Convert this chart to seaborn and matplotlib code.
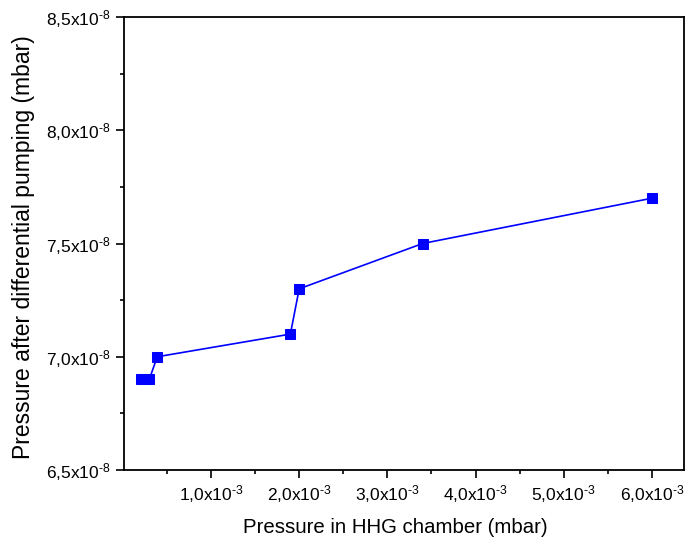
import matplotlib
matplotlib.use("Agg")
import matplotlib.pyplot as plt
import seaborn as sns
import pandas as pd
from matplotlib.ticker import FuncFormatter, MultipleLocator

# Data (mbar)
hhg_pressure = [0.21e-3, 0.30e-3, 0.39e-3, 1.9e-3, 2.0e-3, 3.4e-3, 6.0e-3]
diff_pressure = [6.9e-8, 6.9e-8, 7.0e-8, 7.1e-8, 7.3e-8, 7.5e-8, 7.7e-8]

df = pd.DataFrame({"x": hhg_pressure, "y": diff_pressure})

sns.set_theme(style="ticks")
plt.rcParams["font.family"] = ["Liberation Sans", "DejaVu Sans"]
plt.rcParams["mathtext.fontset"] = "custom"
plt.rcParams["mathtext.rm"] = "Liberation Sans"
plt.rcParams["mathtext.it"] = "Liberation Sans"
plt.rcParams["mathtext.bf"] = "Liberation Sans"
plt.rcParams["text.color"] = "black"
plt.rcParams["axes.labelcolor"] = "black"
plt.rcParams["xtick.color"] = "black"
plt.rcParams["ytick.color"] = "black"

fig = plt.figure(figsize=(6.86, 5.48), dpi=100)
ax = fig.add_axes([0.1808, 0.1423, 0.997 - 0.1808, 0.969 - 0.1423])

sns.lineplot(data=df, x="x", y="y", ax=ax, color="#0000ff", marker="s",
             markersize=7, markeredgecolor="#0000ff", linewidth=1.2,
             sort=False, estimator=None)

ax.set_xlim(0.0136e-3, 6.363e-3)
ax.set_ylim(6.5e-8, 8.5e-8)

ax.xaxis.set_major_locator(MultipleLocator(1e-3))
ax.xaxis.set_minor_locator(MultipleLocator(0.5e-3))
ax.yaxis.set_major_locator(MultipleLocator(0.5e-8))
ax.yaxis.set_minor_locator(MultipleLocator(0.25e-8))

HY = "\u2010"

def fmt_x(v, pos):
    if v < 0.5e-3:
        return ""
    s = f"{v / 1e-3:.1f}".replace(".", ",")
    return s + r"x10$^{\mathregular{" + HY + "3}}$"

def fmt_y(v, pos):
    s = f"{v / 1e-8:.1f}".replace(".", ",")
    return s + r"x10$^{\mathregular{" + HY + "8}}$"

ax.xaxis.set_major_formatter(FuncFormatter(fmt_x))
ax.yaxis.set_major_formatter(FuncFormatter(fmt_y))

ax.tick_params(axis="both", which="major", direction="out", length=6, width=1.2,
               labelsize=12.5, color="black", labelcolor="black")
ax.tick_params(axis="both", which="minor", direction="out", length=3.2, width=1.2,
               color="black")

for sp in ax.spines.values():
    sp.set_visible(True)
    sp.set_linewidth(1.3)
    sp.set_color("black")
ax.tick_params(top=False, right=False, which="both")

ax.set_xlabel("Pressure in HHG chamber (mbar)", fontsize=14.7, labelpad=10)
ax.set_ylabel("Pressure after differential pumping (mbar)", fontsize=16.5, labelpad=6)
ax.xaxis.set_label_coords(0.485, -0.105)
ax.yaxis.set_label_coords(-0.159, 0.493)

fig.savefig("out.png", dpi=100)
